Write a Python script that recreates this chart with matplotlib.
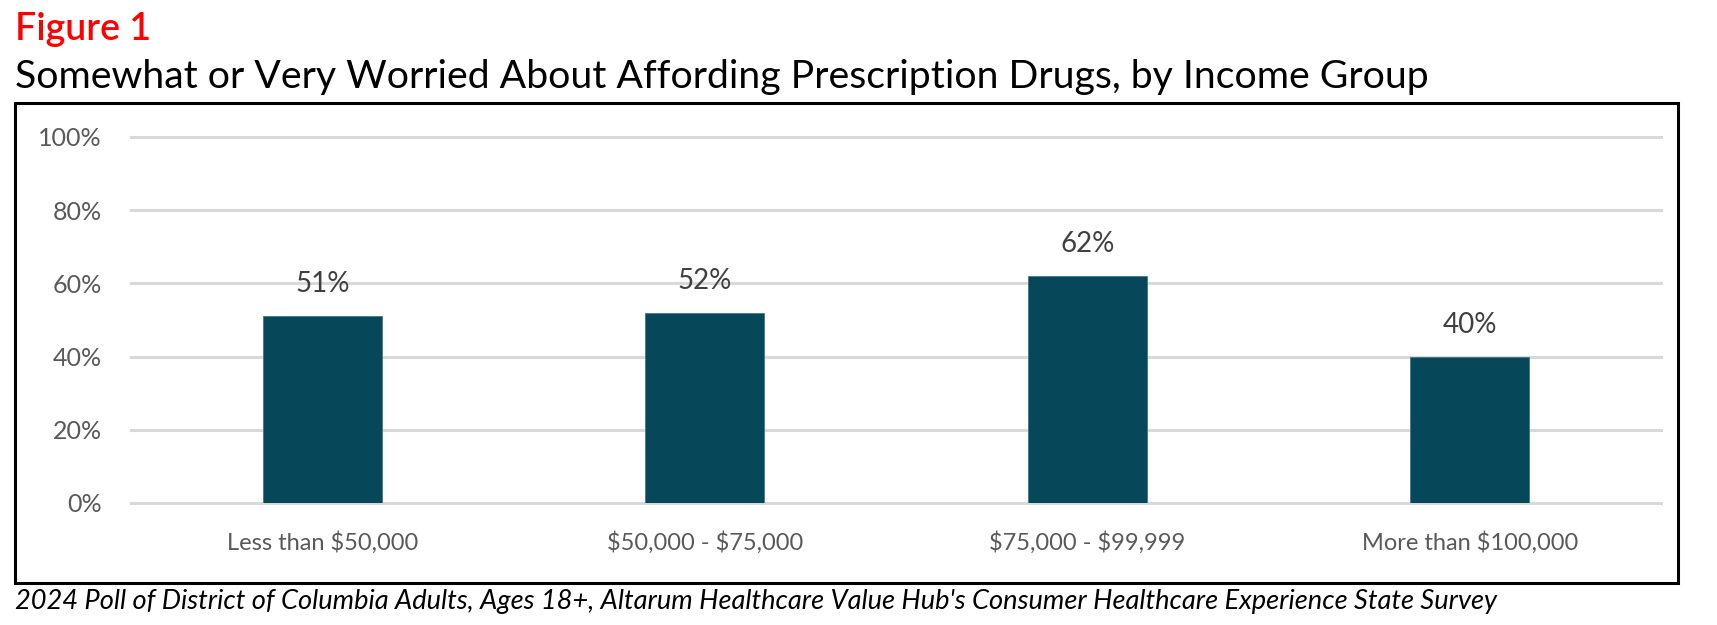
import matplotlib
matplotlib.use("Agg")
import matplotlib.pyplot as plt
from matplotlib.patches import Rectangle

categories = ["Less than $50,000", "$50,000 - $75,000", "$75,000 - $99,999", "More than $100,000"]
values = [51, 52, 62, 40]
yticks = [0, 20, 40, 60, 80, 100]

BAR = "#07475A"; GRID = "#D9D9D9"; TICK = "#595959"; LAB = "#404040"
plt.rcParams.update({"font.family": ["Lato", "DejaVu Sans"]})

W, H = 1717, 625
fig = plt.figure(figsize=(W/100, H/100), dpi=100)
ax = fig.add_axes([131/W, 1-503/H, 1530/W, 366/H])

x = list(range(len(categories)))
ax.bar(x, values, width=0.31, color=BAR, edgecolor="#3E7A8C", lw=0.6, zorder=3)
for xi, v in zip(x, values):
    ax.text(xi, v + 8.7, f"{v}%", ha="center", va="center", fontsize=20, color=LAB)

ax.set_xlim(-0.5, 3.5); ax.set_ylim(0, 100)
ax.set_yticks(yticks); ax.set_yticklabels([f"{t}%" for t in yticks], fontsize=18, color=TICK)
ax.set_xticks(x)
ax.set_xticklabels([c.replace("$", r"\$") for c in categories], fontsize=17, color=TICK)
ax.tick_params(length=0, axis="y", pad=21)
ax.tick_params(length=0, axis="x", pad=20)
ax.set_axisbelow(True)
ax.grid(True, axis="y", color=GRID, lw=2.2)
for gl in ax.get_ygridlines():
    gl.set_clip_on(False)
for s in ax.spines.values():
    s.set_visible(False)

fig.patches.append(Rectangle((15/W, 1-583/H), 1663/W, 480/H, transform=fig.transFigure,
                             fill=False, ec="black", lw=2.2))

fig.text(15/W, 1-40/H, "Figure 1", fontsize=27, fontweight="semibold", color="#FF0000",
         ha="left", va="baseline")
fig.text(15/W, 1-88/H, "Somewhat or Very Worried About Affording Prescription Drugs, by Income Group",
         fontsize=28.3, color="black", ha="left", va="baseline")
fig.text(15/W, 1-609/H, "2024 Poll of District of Columbia Adults, Ages 18+, Altarum Healthcare Value Hub's Consumer Healthcare Experience State Survey",
         fontsize=19.6, style="italic", color="black", ha="left", va="baseline")

fig.savefig("out.png", facecolor="white")
